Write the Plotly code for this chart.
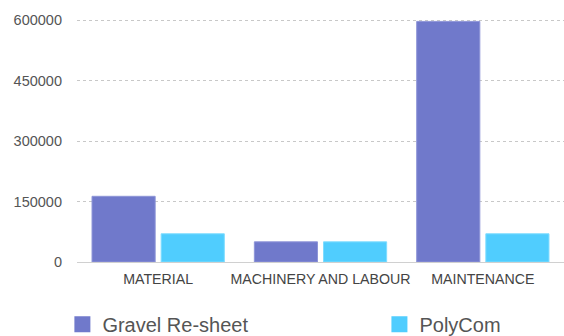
import plotly.graph_objects as go

categories = ["MATERIAL", "MACHINERY AND LABOUR", "MAINTENANCE"]
gravel = [163000, 50000, 597000]
polycom = [70000, 50000, 70000]
y_ticks = [0, 150000, 300000, 450000, 600000]
series_names = ["Gravel Re-sheet", "PolyCom"]
series_colors = ["#7079cb", "#50cdfe"]
edge_colors = ["#8e95d8", "#7fdcff"]

fig = go.Figure()
for name, vals, col, edge in zip(series_names, [gravel, polycom], series_colors, edge_colors):
    fig.add_trace(go.Bar(name=name, x=categories, y=vals, showlegend=False,
                         marker=dict(color=col, line=dict(width=1, color=edge))))

# legend entries with larger square swatches
for name, col, leg in zip(series_names, series_colors, ["legend", "legend2"]):
    fig.add_trace(go.Scatter(name=name, x=[None], y=[None], mode="markers", legend=leg,
                             marker=dict(symbol="square", size=16, color=col)))

leg_common = dict(orientation="h", xanchor="left", y=-0.176, yanchor="top",
                  font=dict(size=20, color="#555"), itemclick=False,
                  bgcolor="rgba(0,0,0,0)")

fig.update_layout(
    width=564, height=336,
    margin=dict(l=77, r=0, t=19, b=74, autoexpand=False),
    paper_bgcolor="white", plot_bgcolor="white",
    barmode="group", bargap=0.148, bargroupgap=0.087,
    font=dict(family="Liberation Sans, Arial, sans-serif", color="#555"),
    showlegend=True,
    legend=dict(x=-0.03, **leg_common),
    legend2=dict(x=0.621, **leg_common),
    xaxis=dict(showline=True, linecolor="#d0d0d0", linewidth=1, ticks="",
               tickfont=dict(size=14.2, color="#444"), ticklabelstandoff=4,
               showgrid=False),
    yaxis=dict(range=[0, 603000], tickvals=y_ticks, ticktext=[str(v) for v in y_ticks],
               showgrid=True, gridcolor="#c8c8c8", griddash="dot", gridwidth=1,
               zeroline=False, showline=False, ticks="",
               tickfont=dict(size=14.5, color="#555"), ticklabelstandoff=14),
)

fig.write_html("out.html")
